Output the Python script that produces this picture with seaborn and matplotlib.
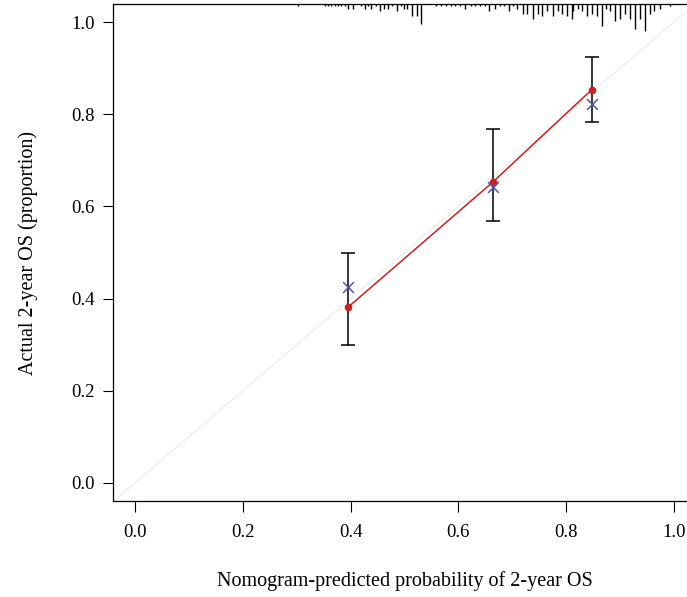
import matplotlib
matplotlib.use("Agg")
import matplotlib.pyplot as plt
import seaborn as sns
import pandas as pd

# calibration groups (predicted vs observed)
predicted = [0.396, 0.664, 0.847]
apparent = [0.382, 0.653, 0.853]
bias_corrected = [0.425, 0.642, 0.822]
ci_low = [0.299, 0.568, 0.783]
ci_high = [0.499, 0.768, 0.924]

# distribution of predicted probabilities (rug on top)
rug_x = [0.303, 0.353, 0.359, 0.364, 0.372, 0.377, 0.383, 0.390, 0.396, 0.405,
         0.420, 0.427, 0.433, 0.438, 0.447, 0.455, 0.462, 0.470, 0.477, 0.486,
         0.494, 0.499, 0.505, 0.514, 0.523, 0.531, 0.558, 0.567, 0.577, 0.586,
         0.593, 0.603, 0.612, 0.623, 0.630, 0.640, 0.649, 0.656, 0.667, 0.677,
         0.684, 0.693, 0.701, 0.708, 0.719, 0.728, 0.738, 0.747, 0.756, 0.765,
         0.775, 0.784, 0.793, 0.802, 0.810, 0.813, 0.821, 0.830, 0.839, 0.848,
         0.858, 0.867, 0.874, 0.882, 0.891, 0.900, 0.909, 0.919, 0.928, 0.937,
         0.946, 0.956, 0.963, 0.974, 0.993]
rug_n = [1, 1, 1, 1, 1, 1, 1, 1, 2, 2,
         1, 2, 1, 2, 1, 3, 2, 2, 1, 3,
         1, 2, 2, 5, 5, 8, 1, 1, 1, 1,
         1, 1, 2, 1, 1, 1, 1, 3, 2, 1,
         1, 3, 1, 2, 4, 4, 6, 4, 5, 3,
         5, 3, 4, 5, 6, 3, 2, 3, 5, 4,
         5, 9, 2, 3, 7, 6, 4, 6, 10, 6,
         11, 4, 3, 2, 1]

df = pd.DataFrame({"pred": predicted, "apparent": apparent, "bc": bias_corrected})

sns.set_theme(style="ticks")
plt.rcParams["font.family"] = ["Liberation Serif", "DejaVu Serif"]
plt.rcParams["text.color"] = "black"
plt.rcParams["axes.labelcolor"] = "black"

fig = plt.figure(figsize=(6.87, 5.97), dpi=100)
ax = fig.add_axes([0.165, 0.1601, 0.8475, 0.8338])

ax.set_xlim(-0.04, 1.04)
ax.set_ylim(-0.04, 1.04)

# ideal line
ax.plot([-0.04, 1.04], [-0.04, 1.04], color="#ececec", lw=0.8, zorder=1)

ax.errorbar(df["pred"], df["apparent"],
            yerr=[df["apparent"] - pd.Series(ci_low), pd.Series(ci_high) - df["apparent"]],
            fmt="none", ecolor="black", elinewidth=1.1, capsize=5, capthick=1.1, zorder=2)

sns.lineplot(data=df, x="pred", y="apparent", color="#cc2020", lw=1.1,
             marker="o", markersize=5.5, markeredgewidth=0, ax=ax, zorder=3)
sns.scatterplot(data=df, x="pred", y="bc", marker="x", color="#5252b0", s=60,
                linewidth=1.1, ax=ax, zorder=4)

# rug spikes hanging from the top
spike = 0.0054
ax.vlines(rug_x, [1.04 - n * spike for n in rug_n], 1.04, color="black", lw=1.0, zorder=2)

ax.set_xticks([0, 0.2, 0.4, 0.6, 0.8, 1.0])
ax.set_yticks([0, 0.2, 0.4, 0.6, 0.8, 1.0])
ax.set_xticklabels(["0.0", "0.2", "0.4", "0.6", "0.8", "1.0"])
ax.set_yticklabels(["0.0", "0.2", "0.4", "0.6", "0.8", "1.0"])
ax.tick_params(axis="x", direction="out", length=8, width=0.8, pad=8, labelsize=13.5, colors="black")
ax.tick_params(axis="y", direction="out", length=7.2, width=0.8, pad=6, labelsize=13.5, colors="black")
for s in ax.spines.values():
    s.set_linewidth(0.9)
    s.set_color("black")

ax.set_xlabel("Nomogram-predicted probability of 2-year OS", fontsize=14.5, labelpad=22)
ax.set_ylabel("Actual 2-year OS (proportion)", fontsize=14.5, labelpad=24)

fig.savefig("out.png", dpi=100)
